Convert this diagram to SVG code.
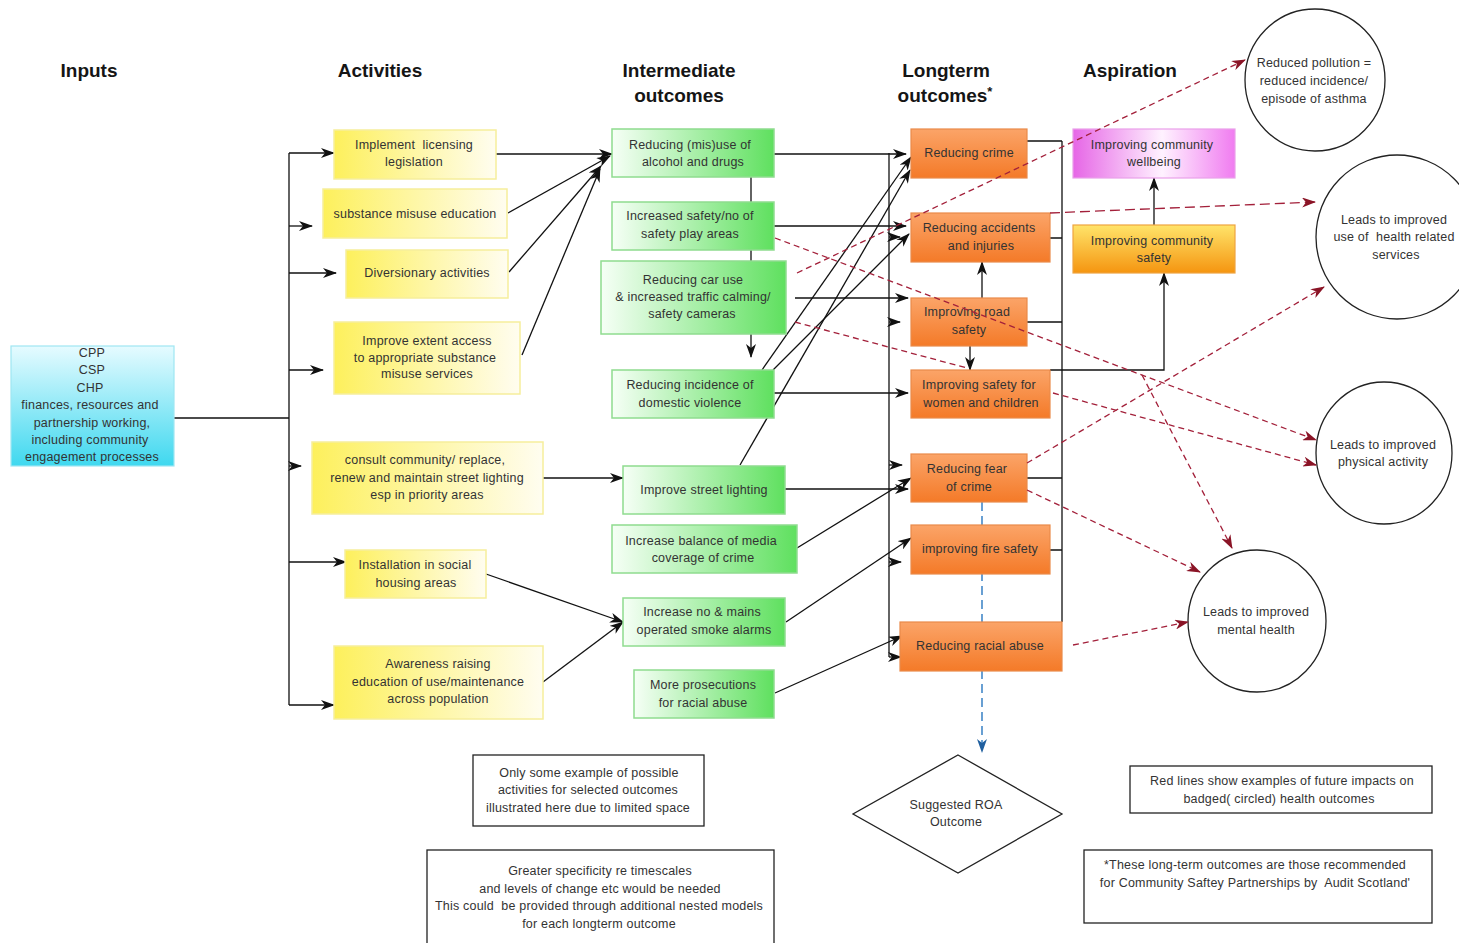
<svg xmlns="http://www.w3.org/2000/svg" width="1459" height="943" viewBox="0 0 1459 943">
<style>
.h{font-family:"Liberation Sans",Arial,sans-serif;font-weight:bold;font-size:19px;fill:#151515;text-anchor:middle}
.t{font-family:"Liberation Sans",Arial,sans-serif;font-size:12.5px;letter-spacing:0.2px;fill:#333;text-anchor:middle;white-space:pre}
.ln{fill:none;stroke:#111;stroke-width:1.3}
.arr{fill:none;stroke:#111;stroke-width:1.3;marker-end:url(#ah)}
.red{fill:none;stroke:#a3203a;stroke-width:1.3;stroke-dasharray:6 4;marker-end:url(#rh)}
.redn{fill:none;stroke:#a3203a;stroke-width:1.3;stroke-dasharray:6 4}
.blue{fill:none;stroke:#2a78c0;stroke-width:1.4;stroke-dasharray:9 5;marker-end:url(#bh)}
.act{fill:url(#gy);stroke:#f6ee9c;stroke-width:1.5}
.int{fill:url(#gg);stroke:#8fdc8f;stroke-width:1.5}
.lt{fill:url(#go);stroke:#e98a4a;stroke-width:1.2}
.note{fill:#fff;stroke:#222;stroke-width:1.3}
.circ{fill:#fff;stroke:#222;stroke-width:1.3}
</style>
<defs>
<linearGradient id="gy" x1="0" y1="0" x2="1" y2="0"><stop offset="0" stop-color="#fdf05c"/><stop offset="1" stop-color="#fffdf0"/></linearGradient>
<linearGradient id="gg" x1="0" y1="0" x2="1" y2="0"><stop offset="0" stop-color="#f6fff6"/><stop offset="1" stop-color="#5fe05f"/></linearGradient>
<linearGradient id="go" x1="0" y1="0" x2="0" y2="1"><stop offset="0" stop-color="#fba468"/><stop offset="1" stop-color="#f47a28"/></linearGradient>
<linearGradient id="gc" x1="0" y1="0" x2="0" y2="1"><stop offset="0" stop-color="#e6fbff"/><stop offset="1" stop-color="#3fd8ef"/></linearGradient>
<linearGradient id="gm" x1="0" y1="0" x2="1" y2="0"><stop offset="0" stop-color="#e666e6"/><stop offset="0.55" stop-color="#fff2ff"/><stop offset="1" stop-color="#f07cf0"/></linearGradient>
<linearGradient id="gs" x1="0" y1="0" x2="0" y2="1"><stop offset="0" stop-color="#ffe46a"/><stop offset="1" stop-color="#f59510"/></linearGradient>
<marker id="ah" markerWidth="14" markerHeight="10" refX="13" refY="5" orient="auto" markerUnits="userSpaceOnUse"><path d="M0,0 L14,5 L0,10 L4,5 z" fill="#111"/></marker>
<marker id="rh" markerWidth="14" markerHeight="10" refX="13" refY="5" orient="auto" markerUnits="userSpaceOnUse"><path d="M0,0 L14,5 L0,10 L4,5 z" fill="#8a1426"/></marker>
<marker id="bh" markerWidth="14" markerHeight="10" refX="13" refY="5" orient="auto" markerUnits="userSpaceOnUse"><path d="M0,0 L14,5 L0,10 L4,5 z" fill="#1f5f9f"/></marker>
</defs>
<rect width="1459" height="943" fill="#fff"/>

<g id="headers">
<text class="h" x="89" y="77">Inputs</text>
<text class="h" x="380" y="77">Activities</text>
<text class="h" x="679" y="77">Intermediate</text>
<text class="h" x="679" y="102">outcomes</text>
<text class="h" x="946" y="77">Longterm</text>
<text class="h" x="945" y="102">outcomes<tspan font-size="13" dy="-6">*</tspan></text>
<text class="h" x="1130" y="77">Aspiration</text>
</g>

<g id="connectors">
<path class="ln" d="M174,418 H289 M289,153 V705"/>
<path class="arr" d="M289,153 H334"/>
<path class="arr" d="M289,226 H312"/>
<path class="arr" d="M289,273 H336"/>
<path class="arr" d="M289,370 H323"/>
<path class="arr" d="M289,466 H301"/>
<path class="arr" d="M289,562 H346"/>
<path class="arr" d="M289,705 H334"/>
<path class="arr" d="M496,154 H612"/>
<path class="arr" d="M508,213 L610,156"/>
<path class="arr" d="M509,272 L601,166"/>
<path class="arr" d="M522,355 L600,169"/>
<path class="arr" d="M543,478 H623"/>
<path class="arr" d="M486,574 L623,622"/>
<path class="arr" d="M543,682 L623,622"/>
<path class="ln" d="M751,177 V202 M751,250 V261"/>
<path class="arr" d="M751,334 V357"/>
<path class="arr" d="M774,154 H906"/>
<path class="arr" d="M774,226 H906"/>
<path class="arr" d="M795,298 H908"/>
<path class="arr" d="M774,393 H908"/>
<path class="arr" d="M785,489 H908"/>
<path class="arr" d="M797,548 L911,478"/>
<path class="arr" d="M786,622 L911,538"/>
<path class="arr" d="M775,693 L902,636"/>
<path class="arr" d="M762,370 L911,157"/>
<path class="arr" d="M773,370 L909,234"/>
<path class="arr" d="M740,465 L910,170"/>
<path class="ln" d="M889,153 V657"/>
<path class="arr" d="M889,237 H900"/>
<path class="arr" d="M889,322 H900"/>
<path class="arr" d="M889,465 H902"/>
<path class="arr" d="M889,562 H901"/>
<path class="arr" d="M889,657 H901"/>
<path class="arr" d="M982,298 V262"/>
<path class="arr" d="M970,346 V370"/>
<path class="ln" d="M1062,141 V622 M1027,141 H1062 M1050,238 H1062 M1027,322 H1062 M1027,478 H1062 M1050,550 H1062"/>
<path class="arr" d="M1050,370 H1164 V273"/>
<path class="arr" d="M1154,225 V178"/>
<path class="blue" d="M982,502 V752"/>
</g>

<g id="input-cpp"><rect x="11" y="346" width="163" height="120" fill="url(#gc)" stroke="#9fe6f2" stroke-width="1.2"/>
<text class="t" x="92" y="357">CPP</text><text class="t" x="92" y="374">CSP</text><text class="t" x="90" y="392">CHP</text>
<text class="t" x="90" y="409">finances, resources and</text><text class="t" x="92" y="427">partnership working,</text>
<text class="t" x="90" y="444">including community</text><text class="t" x="92" y="461">engagement processes</text></g>

<g id="act-licensing"><rect class="act" x="334" y="130" width="162" height="49"/><text class="t" x="414" y="149" xml:space="preserve">Implement  licensing</text><text class="t" x="414" y="166">legislation</text></g>
<g id="act-education"><rect class="act" x="323" y="189" width="184" height="49"/><text class="t" x="415" y="218">substance misuse education</text></g>
<g id="act-diversionary"><rect class="act" x="346" y="250" width="162" height="48"/><text class="t" x="427" y="277">Diversionary activities</text></g>
<g id="act-access"><rect class="act" x="334" y="322" width="186" height="72"/><text class="t" x="427" y="345">Improve extent access</text><text class="t" x="425" y="362">to appropriate substance</text><text class="t" x="427" y="378">misuse services</text></g>
<g id="act-lighting"><rect class="act" x="312" y="442" width="231" height="72"/><text class="t" x="425" y="464">consult community/ replace,</text><text class="t" x="427" y="482">renew and maintain street lighting</text><text class="t" x="427" y="499">esp in priority areas</text></g>
<g id="act-housing"><rect class="act" x="345" y="550" width="141" height="48"/><text class="t" x="415" y="569">Installation in social</text><text class="t" x="416" y="587">housing areas</text></g>
<g id="act-awareness"><rect class="act" x="334" y="646" width="209" height="73"/><text class="t" x="438" y="668">Awareness raising</text><text class="t" x="438" y="686">education of use/maintenance</text><text class="t" x="438" y="703">across population</text></g>

<g id="int-alcohol"><rect class="int" x="612" y="129" width="162" height="48"/><text class="t" x="690" y="149">Reducing (mis)use of</text><text class="t" x="693" y="166">alcohol and drugs</text></g>
<g id="int-play"><rect class="int" x="612" y="202" width="162" height="48"/><text class="t" x="690" y="220">Increased safety/no of</text><text class="t" x="690" y="238">safety play areas</text></g>
<g id="int-car"><rect class="int" x="601" y="261" width="185" height="73"/><text class="t" x="693" y="284">Reducing car use</text><text class="t" x="693" y="301">&amp; increased traffic calming/</text><text class="t" x="692" y="318">safety cameras</text></g>
<g id="int-domestic"><rect class="int" x="612" y="370" width="162" height="48"/><text class="t" x="690" y="389">Reducing incidence of</text><text class="t" x="690" y="407">domestic violence</text></g>
<g id="int-lighting"><rect class="int" x="623" y="466" width="162" height="48"/><text class="t" x="704" y="494">Improve street lighting</text></g>
<g id="int-media"><rect class="int" x="612" y="525" width="185" height="48"/><text class="t" x="701" y="545">Increase balance of media</text><text class="t" x="703" y="562">coverage of crime</text></g>
<g id="int-alarms"><rect class="int" x="623" y="598" width="162" height="48"/><text class="t" x="702" y="616">Increase no &amp; mains</text><text class="t" x="704" y="634">operated smoke alarms</text></g>
<g id="int-prosecutions"><rect class="int" x="634" y="670" width="140" height="48"/><text class="t" x="703" y="689">More prosecutions</text><text class="t" x="703" y="707">for racial abuse</text></g>

<g id="lt-crime"><rect class="lt" x="911" y="129" width="116" height="49"/><text class="t" x="969" y="157">Reducing crime</text></g>
<g id="lt-accidents"><rect class="lt" x="911" y="213" width="139" height="49"/><text class="t" x="979" y="232">Reducing accidents</text><text class="t" x="981" y="250">and injuries</text></g>
<g id="lt-road"><rect class="lt" x="911" y="298" width="116" height="48"/><text class="t" x="967" y="316">Improving road</text><text class="t" x="969" y="334">safety</text></g>
<g id="lt-women"><rect class="lt" x="911" y="370" width="139" height="48"/><text class="t" x="979" y="389">Improving safety for</text><text class="t" x="981" y="407">women and children</text></g>
<g id="lt-fear"><rect class="lt" x="911" y="454" width="116" height="48"/><text class="t" x="967" y="473">Reducing fear</text><text class="t" x="969" y="491">of crime</text></g>
<g id="lt-fire"><rect class="lt" x="911" y="525" width="139" height="49"/><text class="t" x="980" y="553">improving fire safety</text></g>
<g id="lt-racial"><rect class="lt" x="900" y="622" width="162" height="49"/><text class="t" x="980" y="650">Reducing racial abuse</text></g>

<g id="asp-wellbeing"><rect x="1073" y="129" width="162" height="49" fill="url(#gm)" stroke="#e9a0e9" stroke-width="1.2"/><text class="t" x="1152" y="149">Improving community</text><text class="t" x="1154" y="166">wellbeing</text></g>
<g id="asp-safety"><rect x="1073" y="225" width="162" height="48" fill="url(#gs)" stroke="#eea440" stroke-width="1.2"/><text class="t" x="1152" y="245">Improving community</text><text class="t" x="1154" y="262">safety</text></g>

<g id="circle-pollution"><ellipse class="circ" cx="1315" cy="80" rx="70" ry="71"/><text class="t" x="1314" y="67">Reduced pollution =</text><text class="t" x="1314" y="85">reduced incidence/</text><text class="t" x="1314" y="103">episode of asthma</text></g>
<g id="circle-services"><ellipse class="circ" cx="1397" cy="237" rx="81" ry="82"/><text class="t" x="1394" y="224">Leads to improved</text><text class="t" x="1394" y="241" xml:space="preserve">use of  health related</text><text class="t" x="1396" y="259">services</text></g>
<g id="circle-physical"><ellipse class="circ" cx="1384" cy="453" rx="68" ry="71"/><text class="t" x="1383" y="449">Leads to improved</text><text class="t" x="1383" y="466">physical activity</text></g>
<g id="circle-mental"><ellipse class="circ" cx="1257" cy="621" rx="69" ry="71"/><text class="t" x="1256" y="616">Leads to improved</text><text class="t" x="1256" y="634">mental health</text></g>

<g id="roa-outcome"><path class="note" d="M958,755 L1062,814 L958,873 L853,814 Z"/><text class="t" x="956" y="809">Suggested ROA</text><text class="t" x="956" y="826">Outcome</text></g>

<g id="note-examples"><rect class="note" x="473" y="755" width="231" height="71"/><text class="t" x="589" y="777">Only some example of possible</text><text class="t" x="588" y="794">activities for selected outcomes</text><text class="t" x="588" y="812">illustrated here due to limited space</text></g>
<g id="note-specificity"><rect class="note" x="427" y="850" width="347" height="100"/><text class="t" x="600" y="875">Greater specificity re timescales</text><text class="t" x="600" y="893">and levels of change etc would be needed</text><text class="t" x="599" y="910" xml:space="preserve">This could  be provided through additional nested models</text><text class="t" x="599" y="928">for each longterm outcome</text></g>
<g id="note-redlines"><rect class="note" x="1130" y="766" width="302" height="47"/><text class="t" x="1282" y="785">Red lines show examples of future impacts on</text><text class="t" x="1279" y="803">badged( circled) health outcomes</text></g>
<g id="note-audit"><rect class="note" x="1084" y="850" width="348" height="73"/><text class="t" x="1255" y="869">*These long-term outcomes are those recommended</text><text class="t" x="1255" y="887" xml:space="preserve">for Community Saftey Partnerships by  Audit Scotland'</text></g>

<g id="impact-connectors">
<path class="red" d="M797,273 L1245,60"/>
<path class="red" d="M1050,213 L1315,202" style="stroke-dasharray:10 5"/>
<path class="red" d="M775,238 L1316,440"/>
<path class="redn" d="M795,322 L967,368"/>
<path class="red" d="M1142,375 L1232,548"/>
<path class="red" d="M1027,463 L1324,287"/>
<path class="red" d="M1027,490 L1200,572"/>
<path class="red" d="M1053,393 L1316,465"/>
<path class="red" d="M1073,645 L1188,622"/>
</g>
</svg>
